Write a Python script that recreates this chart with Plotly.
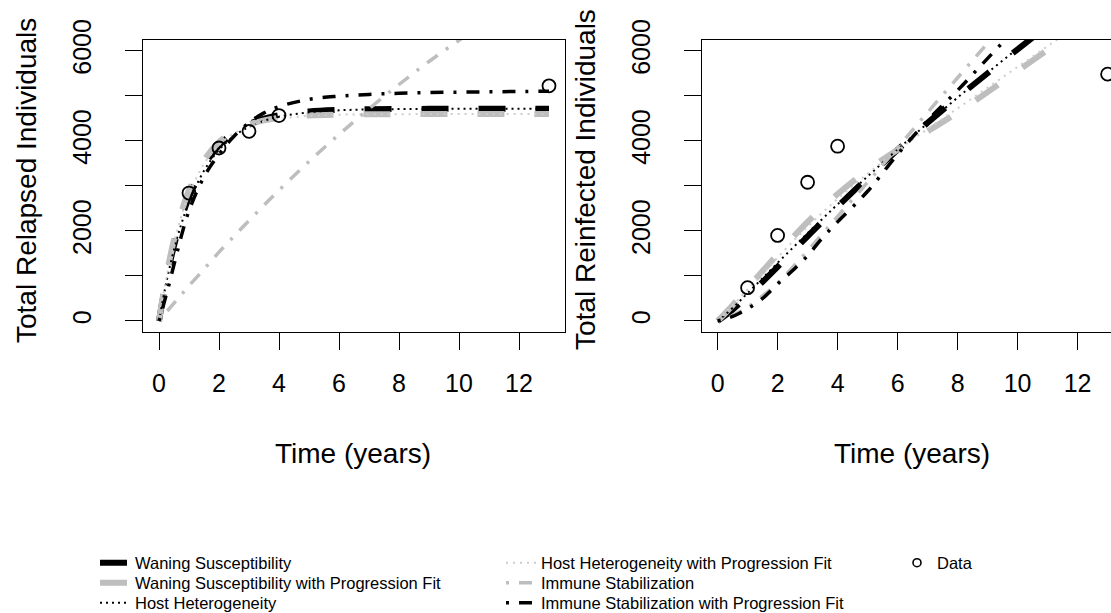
import plotly.graph_objects as go

# ---------------- data ----------------
time = [0, 0.25, 0.5, 0.75, 1, 1.5, 2, 2.5, 3, 3.5, 4, 5, 6, 7, 8, 9, 10, 11, 12, 13]

# Relapsed (left panel)
rel_waning = [0, 928, 1672, 2271, 2751, 3448, 3896, 4184, 4372, 4492, 4570, 4652, 4686, 4700, 4706, 4709, 4710, 4710, 4710, 4710]
rel_waning_pf = [0, 1016, 1807, 2423, 2903, 3568, 3972, 4216, 4364, 4454, 4509, 4562, 4582, 4589, 4592, 4593, 4593, 4593, 4593, 4593]
rel_hetero = [0, 873, 1584, 2164, 2636, 3334, 3797, 4105, 4309, 4444, 4534, 4633, 4677, 4696, 4704, 4708, 4710, 4711, 4711, 4711]
rel_hetero_pf = [0, 971, 1737, 2341, 2817, 3488, 3906, 4166, 4328, 4428, 4490, 4553, 4578, 4588, 4591, 4593, 4593, 4593, 4593, 4593]
rel_immune = [0, 200, 395, 590, 780, 1150, 1530, 1880, 2230, 2570, 2900, 3540, 4140, 4710, 5250, 5760, 6230, 6680, 7100, 7490]
rel_immune_pf = [0, 600, 1250, 1900, 2450, 3200, 3700, 4100, 4400, 4620, 4760, 4920, 4990, 5030, 5055, 5070, 5080, 5088, 5094, 5100]

# Reinfected (right panel)
rei_waning = [0, 120, 250, 400, 550, 870, 1200, 1540, 1880, 2210, 2540, 3180, 3800, 4400, 4960, 5500, 6030, 6550, 7050, 7550]
rei_waning_pf = [0, 170, 350, 540, 730, 1110, 1480, 1850, 2200, 2520, 2820, 3350, 3800, 4210, 4630, 5080, 5550, 6020, 6500, 6980]
rei_hetero = [0, 140, 290, 450, 620, 950, 1290, 1620, 1950, 2270, 2590, 3210, 3810, 4390, 4960, 5510, 6050, 6580, 7100, 7610]
rei_hetero_pf = [0, 170, 345, 520, 700, 1050, 1410, 1760, 2090, 2410, 2710, 3270, 3790, 4260, 4720, 5180, 5640, 6100, 6560, 7020]
rei_immune = [0, 50, 120, 210, 310, 560, 840, 1190, 1560, 1940, 2320, 3080, 3850, 4630, 5400, 6170, 6930, 7690, 8450, 9200]
rei_immune_pf = [0, 40, 100, 180, 270, 500, 820, 1120, 1450, 1850, 2200, 2880, 3700, 4450, 5120, 5830, 6530, 7230, 7930, 8630]

data_time = [1, 2, 3, 4, 13]
data_relapsed = [2840, 3840, 4210, 4560, 5220]
data_reinfected = [740, 1900, 3080, 3880, 5480]

x_ticks = [0, 2, 4, 6, 8, 10, 12]
y_ticks = [0, 1000, 2000, 3000, 4000, 5000, 6000]
y_ticktext = ["0", "", "2000", "", "4000", "", "6000"]

names = [
    "Waning Susceptibility",
    "Waning Susceptibility with Progression Fit",
    "Host Heterogeneity",
    "Host Heterogeneity with Progression Fit",
    "Immune Stabilization",
    "Immune Stabilization with Progression Fit",
]

# ---------------- styles ----------------
FONT = "Liberation Sans, Arial, Helvetica, sans-serif"
GRAY = "#BEBEBE"
LIGHT = "#CDCDCD"
styles = [
    dict(color="black", width=6, dash="27px,30px"),
    dict(color=GRAY, width=6, dash="27px,30px"),
    dict(color="black", width=2, dash="2px,4px"),
    dict(color=LIGHT, width=2, dash="2px,5px"),
    dict(color=GRAY, width=3.5, dash="3px,10px,13px,10px"),
    dict(color="black", width=3.5, dash="3px,10px,13px,10px"),
]
# one single-entry legend per key row (column-major key as in the reference)
legend_ids = ["legend", "legend2", "legend3", "legend4", "legend5", "legend6"]

left_series = [rel_waning, rel_waning_pf, rel_hetero, rel_hetero_pf, rel_immune, rel_immune_pf]
right_series = [rei_waning, rei_waning_pf, rei_hetero, rei_hetero_pf, rei_immune, rei_immune_pf]

fig = go.Figure()

for i, (name, ys) in enumerate(zip(names, left_series)):
    fig.add_trace(go.Scatter(x=time, y=ys, mode="lines", name=name, line=styles[i],
                             xaxis="x", yaxis="y", legend=legend_ids[i], showlegend=True,
                             line_shape="spline"))
fig.add_trace(go.Scatter(x=data_time, y=data_relapsed, mode="markers", name="Data",
                         marker=dict(symbol="circle-open", size=13, color="black", line=dict(width=1.8)),
                         xaxis="x", yaxis="y", showlegend=False, cliponaxis=False))

for i, (name, ys) in enumerate(zip(names, right_series)):
    fig.add_trace(go.Scatter(x=time, y=ys, mode="lines", name=name, line=styles[i],
                             xaxis="x2", yaxis="y2", showlegend=False, line_shape="spline"))
fig.add_trace(go.Scatter(x=data_time, y=data_reinfected, mode="markers", name="Data",
                         marker=dict(symbol="circle-open", size=13, color="black", line=dict(width=1.8)),
                         xaxis="x2", yaxis="y2", showlegend=False, cliponaxis=False))

# legend-only entry for Data (smaller symbol as in the reference key)
fig.add_trace(go.Scatter(x=[None], y=[None], mode="markers", name="Data",
                         marker=dict(symbol="circle-open", size=8, color="black", line=dict(width=1.6)),
                         xaxis="x", yaxis="y", legend="legend7", showlegend=True))

W, H = 1111, 613
Y_DOM = [1 - 331.8 / H, 1 - 39.9 / H]

axis_common = dict(showgrid=False, zeroline=False, showline=True, linecolor="black", linewidth=1.2,
                   ticks="outside", ticklen=17, tickwidth=1.2, tickcolor="black", automargin=False,
                   tickfont=dict(family=FONT, size=25, color="black"))

LEG_FONT = dict(family=FONT, size=16.5, color="black")
row_y = [563, 583, 603]
col_x = [95, 501, 897]
legend_layout = {}
positions = [(0, 0), (0, 1), (0, 2), (1, 0), (1, 1), (1, 2), (2, 0)]
for k, (c, r) in enumerate(positions):
    key = "legend" if k == 0 else f"legend{k + 1}"
    legend_layout[key] = dict(x=col_x[c] / W, y=1 - row_y[r] / H, xanchor="left", yanchor="middle",
                              bgcolor="rgba(0,0,0,0)", borderwidth=0, font=LEG_FONT)

TITLE_FONT = dict(family=FONT, size=28, color="black")

fig.update_layout(
    width=W, height=H,
    margin=dict(l=0, r=0, t=0, b=0, autoexpand=False),
    paper_bgcolor="white", plot_bgcolor="white",
    font=dict(family=FONT, color="black"),
    xaxis=dict(domain=[143.4 / W, 564.6 / W], range=[-0.52, 13.52], tickvals=x_ticks,
               mirror=True, anchor="y", ticklabelstandoff=12, **axis_common),
    yaxis=dict(domain=Y_DOM, range=[-240, 6240], tickvals=y_ticks, ticktext=y_ticktext,
               tickangle=-90, mirror=True, anchor="x", ticklabelstandoff=24, **axis_common),
    xaxis2=dict(domain=[702.0 / W, 1.0], range=[-0.52, 13.113], tickvals=x_ticks,
                mirror=True, anchor="y2", ticklabelstandoff=12, **axis_common),
    yaxis2=dict(domain=Y_DOM, range=[-240, 6240], tickvals=y_ticks, ticktext=y_ticktext,
                tickangle=-90, mirror=False, anchor="x2", ticklabelstandoff=24, **axis_common),
    annotations=[
        dict(text="Total Relapsed Individuals", x=26 / W, y=1 - 181 / H, xref="paper", yref="paper",
             textangle=-90, showarrow=False, xanchor="center", yanchor="middle", font=TITLE_FONT),
        dict(text="Total Reinfected Individuals", x=585 / W, y=1 - 180 / H, xref="paper", yref="paper",
             textangle=-90, showarrow=False, xanchor="center", yanchor="middle", font=TITLE_FONT),
        dict(text="Time (years)", x=353 / W, y=1 - 453 / H, xref="paper", yref="paper",
             showarrow=False, xanchor="center", yanchor="middle", font=TITLE_FONT),
        dict(text="Time (years)", x=912 / W, y=1 - 453 / H, xref="paper", yref="paper",
             showarrow=False, xanchor="center", yanchor="middle", font=TITLE_FONT),
    ],
    **legend_layout,
)

fig.write_html("out.html",
               config={"displayModeBar": False},
               post_script="document.body.style.margin='0';document.body.style.overflow='hidden';")
